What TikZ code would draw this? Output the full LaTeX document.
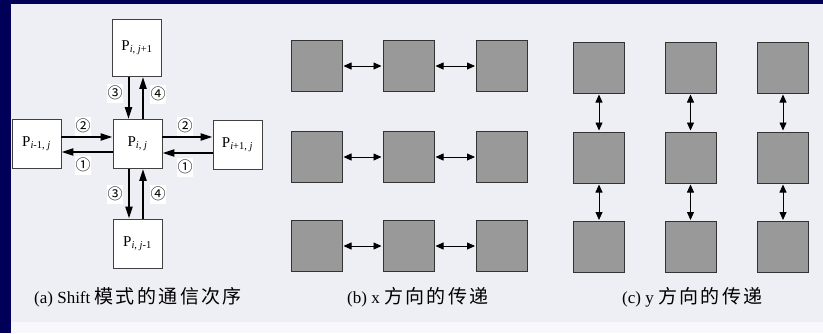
\documentclass[tikz,border=0pt]{standalone}
\usepackage{fontspec}
\setmainfont{Liberation Serif}
\newfontfamily\cjk[LetterSpace=12.5]{Noto Sans CJK SC}
\newfontfamily\symf{Noto Sans CJK SC}
\usetikzlibrary{arrows.meta}
\definecolor{navy}{HTML}{000058}
\definecolor{bgc}{HTML}{EEEEF5}
\definecolor{bgl}{HTML}{F8F8FC}
\definecolor{boxgray}{HTML}{999999}
\newcommand{\zh}[1]{{\cjk\fontsize{19}{19}\selectfont #1}}
\tikzset{
  pbox/.style={draw=black!75, fill=white, minimum width=49pt, minimum height=49pt, inner sep=0pt, line width=0.8pt, font=\fontsize{15}{15}\selectfont},
  gbox/.style={draw=black!80, fill=boxgray, minimum width=51pt, minimum height=51pt, inner sep=0pt, line width=1pt},
  sarrow/.style={line width=2pt, -{Triangle[length=12pt,width=7pt]}},
  darr/.style={line width=0.8pt, shorten <=1pt, shorten >=1pt, {Triangle[length=8pt,width=7pt]}-{Triangle[length=8pt,width=7pt]}},
  numlbl/.style={font=\symf\fontsize{15}{15}\selectfont, fill=white, inner sep=0pt, minimum width=16pt, minimum height=19pt},
  captxt/.style={anchor=west, font=\fontsize{17}{18}\selectfont, inner sep=0pt}
}
\begin{document}
\begin{tikzpicture}[x=1pt,y=-1pt]
\fill[navy] (0,0) rectangle (823,333);
\fill[bgc] (11,4) rectangle (823,322);
\fill[bgl] (11,322) rectangle (823,333);
\useasboundingbox (0,0) rectangle (823,333);

% (a) shift pattern
\node[pbox, minimum height=57pt] (t) at (137,48) {P\textsubscript{\textit{i}, \textit{j}+1}};
\node[pbox] (c) at (137.5,144) {P\textsubscript{\textit{i}, \textit{j}}};
\node[pbox] (l) at (36.5,144) {P\textsubscript{\textit{i}-1, \textit{j}}};
\node[pbox] (r) at (237.5,145) {P\textsubscript{\textit{i}+1, \textit{j}}};
\node[pbox] (b) at (137.5,243.5) {P\textsubscript{\textit{i}, \textit{j}-1}};

\node[numlbl] (n3a) at (115,93) {③};
\node[numlbl] (n4a) at (158,94) {④};
\node[numlbl] (n2l) at (83,126) {②};
\node[numlbl] (n1l) at (83,165) {①};
\node[numlbl] (n2r) at (185,126) {②};
\node[numlbl] (n1r) at (185,167) {①};
\node[numlbl] (n3b) at (115,194) {③};
\node[numlbl] (n4b) at (158,194) {④};

\draw[sarrow] ([xshift=-8.5pt]t.south) -- ([xshift=-8.5pt]t.south |- c.north);
\draw[sarrow] ([xshift=5.5pt]c.north) -- ([xshift=5.5pt]c.north |- t.south);
\draw[sarrow] ([xshift=-8.5pt]c.south) -- ([xshift=-8.5pt]c.south |- b.north);
\draw[sarrow] ([xshift=5.5pt]b.north) -- ([xshift=5.5pt]b.north |- c.south);
\draw[sarrow] ([yshift=7pt]l.east) -- ([yshift=7pt]l.east -| c.west);
\draw[sarrow] ([yshift=-8pt]c.west) -- ([yshift=-8pt]c.west -| l.east);
\draw[sarrow] ([yshift=7pt]c.east) -- ([yshift=7pt]c.east -| r.west);
\draw[sarrow] ([yshift=-8pt]r.west) -- ([yshift=-8pt]r.west -| c.east);

% (b) x direction
\foreach \r/\y in {1/66,2/157,3/246}{
  \node[gbox] (b\r1) at (316.5,\y) {};
  \node[gbox] (b\r2) at (408.5,\y) {};
  \node[gbox] (b\r3) at (502,\y) {};
  \draw[darr] (b\r1.east) -- (b\r2.west);
  \draw[darr] (b\r2.east) -- (b\r3.west);
}

% (c) y direction
\foreach \c/\x in {1/599,2/690.5,3/783}{
  \node[gbox] (c1\c) at (\x,67.5) {};
  \node[gbox] (c2\c) at (\x,157.5) {};
  \node[gbox] (c3\c) at (\x,247) {};
  \draw[darr] (c1\c.south) -- (c2\c.north);
  \draw[darr] (c2\c.south) -- (c3\c.north);
}

% captions
\node[captxt] (capa) at (34,297) {(a) Shift \zh{模式的通信次序}};
\node[captxt] (capb) at (347,297) {(b) x \zh{方向的传递}};
\node[captxt] (capc) at (622,297) {(c) y \zh{方向的传递}};
\end{tikzpicture}
\end{document}
